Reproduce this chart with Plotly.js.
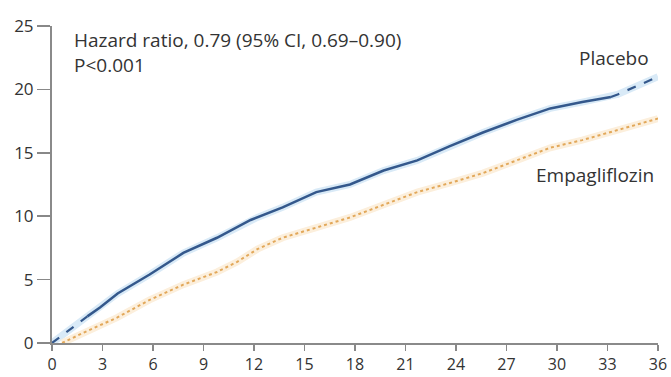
<!DOCTYPE html>
<html>
<head>
<meta charset="utf-8">
<script src="https://cdn.plot.ly/plotly-3.0.1.min.js"></script>
<style>html,body{margin:0;padding:0;background:#fff;}#chart{width:671px;height:377px;}</style>
</head>
<body>
<div id="chart"></div>
<script>
// Months since randomization
const placeboMonths = [0, 1.4, 2.1, 2.85, 3.9, 5.8, 7.8, 9.8, 11.8, 12.2, 13.7, 15.7, 17.7, 19.7, 21.7, 23.6, 25.6, 27.6, 29.6, 31.5, 33.2, 33.6, 36];
const placeboValues = [0, 1.4, 2.1, 2.8, 3.9, 5.4, 7.1, 8.3, 9.7, 9.9, 10.7, 11.9, 12.5, 13.6, 14.4, 15.5, 16.6, 17.6, 18.5, 19.0, 19.4, 19.6, 21.0];
const empaMonths = [0.6, 1.85, 3.86, 5.8, 7.8, 9.8, 11, 12.2, 13.7, 15.7, 17.7, 19.7, 21.7, 23.6, 25.6, 27.6, 29.6, 31.5, 33.6, 36];
const empaValues = [0, 0.8, 2.0, 3.4, 4.6, 5.6, 6.4, 7.4, 8.3, 9.1, 9.9, 10.9, 11.9, 12.6, 13.4, 14.4, 15.4, 16.0, 16.8, 17.7];
const xTicks = [0, 3, 6, 9, 12, 15, 18, 21, 24, 27, 30, 33, 36];
const yTicks = [0, 5, 10, 15, 20, 25];
const seriesLabels = ["Placebo", "Empagliflozin"];
const statText = ["Hazard ratio, 0.79 (95% CI, 0.69\u20130.90)", "P<0.001"];

// split placebo into dashed start, solid middle, dashed tail
const startEnd = 2, tailStart = 20;
const pStartX = placeboMonths.slice(0, startEnd + 1), pStartY = placeboValues.slice(0, startEnd + 1);
const pMidX = placeboMonths.slice(startEnd, tailStart + 1), pMidY = placeboValues.slice(startEnd, tailStart + 1);
const pTailX = placeboMonths.slice(tailStart), pTailY = placeboValues.slice(tailStart);

const blue = '#34588c';
const orange = '#e2a85a';
const traces = [
  {x: placeboMonths, y: placeboValues, mode: 'lines', line: {color: '#d9eaf7', width: 7}, hoverinfo: 'skip'},
  {x: empaMonths, y: empaValues, mode: 'lines', line: {color: '#fcefdc', width: 7}, hoverinfo: 'skip'},
  {x: empaMonths, y: empaValues, mode: 'lines', line: {color: orange, width: 2, dash: 'dot'}, name: seriesLabels[1]},
  {x: pStartX, y: pStartY, mode: 'lines', line: {color: blue, width: 2.2, dash: 'dash'}, name: seriesLabels[0]},
  {x: pMidX, y: pMidY, mode: 'lines', line: {color: blue, width: 2.5}, name: seriesLabels[0]},
  {x: pTailX, y: pTailY, mode: 'lines', line: {color: blue, width: 2.2, dash: 'dash'}, name: seriesLabels[0]}
];

const font = {family: 'Open Sans, sans-serif', size: 19, color: '#333'};
const tickFont = {family: 'Open Sans, sans-serif', size: 17, color: '#333'};
const layout = {
  width: 671, height: 377,
  margin: {l: 52, r: 13, t: 26, b: 34},
  paper_bgcolor: '#fff', plot_bgcolor: '#fff',
  showlegend: false,
  font: font,
  xaxis: {range: [0, 36], tickvals: xTicks, ticktext: xTicks.map(String), ticks: 'outside', ticklen: 6, tickwidth: 1.5, tickcolor: '#888',
          showline: true, linecolor: '#8a8a8a', linewidth: 2, showgrid: false, zeroline: false, tickfont: {family: 'Open Sans, sans-serif', size: 16, color: '#333'}, fixedrange: true},
  yaxis: {range: [0, 25], tickvals: yTicks, ticktext: yTicks.map(String), ticks: 'outside', ticklen: 13, tickwidth: 1.5, tickcolor: '#888',
          showline: true, linecolor: '#8a8a8a', linewidth: 2, showgrid: false, zeroline: false, tickfont: tickFont, fixedrange: true},
  annotations: [
    {xref: 'paper', yref: 'paper', x: 0.033, y: 0.915, xanchor: 'left', yanchor: 'middle', align: 'left', text: statText[0] + '<br>' + statText[1], showarrow: false, font: font},
    {xref: 'x', yref: 'y', x: 35.6, y: 22.5, xanchor: 'right', yanchor: 'middle', text: seriesLabels[0], showarrow: false, font: font},
    {xref: 'x', yref: 'y', x: 35.9, y: 13.25, xanchor: 'right', yanchor: 'middle', text: seriesLabels[1], showarrow: false, font: font}
  ]
};
Plotly.newPlot('chart', traces, layout, {displayModeBar: false, staticPlot: true});
</script>
</body>
</html>
